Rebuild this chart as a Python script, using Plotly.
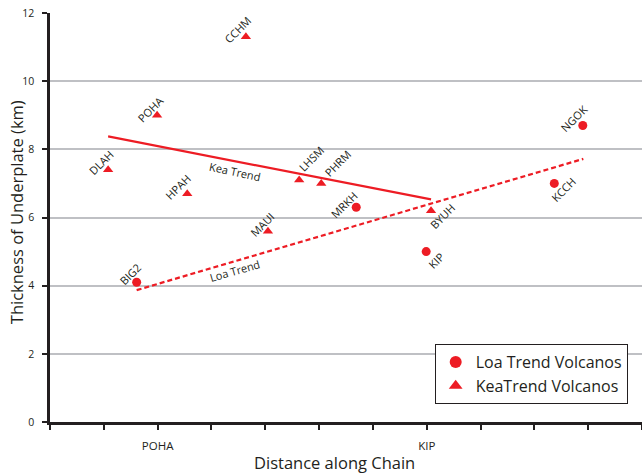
import plotly.graph_objects as go

# Volcano positions along the chain (x) and underplate thickness in km (y)
loa_names = ["BIG2", "MRKH", "KIP", "KCCH", "NGOK"]
loa_x = [1.61, 5.69, 6.99, 9.37, 9.90]
loa_y = [4.1, 6.3, 5.0, 7.0, 8.7]

kea_names = ["DLAH", "POHA", "HPAH", "CCHM", "MAUI", "LHSM", "PHRM", "BYUH"]
kea_x = [1.08, 1.99, 2.55, 3.64, 4.05, 4.63, 5.04, 7.08]
kea_y = [7.4, 9.0, 6.7, 11.3, 5.6, 7.1, 7.0, 6.2]

# Trend line end points
kea_trend_x = [1.08, 7.08]
kea_trend_y = [8.38, 6.53]
loa_trend_x = [1.61, 9.91]
loa_trend_y = [3.87, 7.72]

# Axis ticks
x_tickvals = list(range(0, 12))
x_ticktext = ["", "", "POHA", "", "", "", "", "KIP", "", "", "", ""]
y_tickvals = [0, 2, 4, 6, 8, 10, 12]

RED = "#ED1C24"
INK = "#231F20"
GRID = "#BFC0C4"
FONT = "Open Sans"

# Label offsets (pixels, right / up) relative to each marker
label_shift = {
    "BIG2": (-7, 8), "MRKH": (-12, 3), "KIP": (10, -9), "KCCH": (9, -6),
    "NGOK": (-9, 7), "DLAH": (-7, 7), "POHA": (-7, 6), "HPAH": (-9, 7),
    "CCHM": (-8, 7), "MAUI": (-6, 7), "LHSM": (12, 22), "PHRM": (16, 20),
    "BYUH": (11, -6),
}

fig = go.Figure()

fig.add_trace(go.Scatter(
    x=kea_trend_x, y=kea_trend_y, mode="lines",
    line=dict(color=RED, width=2.2), showlegend=False, hoverinfo="skip"))
fig.add_trace(go.Scatter(
    x=loa_trend_x, y=loa_trend_y, mode="lines",
    line=dict(color=RED, width=2.2, dash="5px,3px"), showlegend=False,
    hoverinfo="skip"))

fig.add_trace(go.Scatter(
    x=loa_x, y=loa_y, mode="markers", name="Loa Trend Volcanos",
    text=loa_names, marker=dict(symbol="circle", size=9, color=RED)))
fig.add_trace(go.Scatter(
    x=kea_x, y=kea_y, mode="markers", name="KeaTrend Volcanos",
    text=kea_names, marker=dict(symbol="triangle-up", size=9, color=RED)))

annotations = []
for names, xs, ys in ((loa_names, loa_x, loa_y), (kea_names, kea_x, kea_y)):
    for n, x, y in zip(names, xs, ys):
        dx, dy = label_shift[n]
        annotations.append(dict(
            x=x, y=y, xref="x", yref="y", text=n, showarrow=False,
            textangle=-45, xshift=dx, yshift=dy,
            font=dict(family=FONT, size=11, color=INK)))

# Trend line captions
annotations.append(dict(x=3.44, y=7.36, xref="x", yref="y", text="Kea Trend",
                        showarrow=False, textangle=12,
                        font=dict(family=FONT, size=11, color=INK)))
annotations.append(dict(x=3.44, y=4.45, xref="x", yref="y", text="Loa Trend",
                        showarrow=False, textangle=-16,
                        font=dict(family=FONT, size=11, color=INK)))

# Axis titles
annotations.append(dict(x=-0.0574, y=0.513, xref="paper", yref="paper",
                        text="Thickness of Underplate (km)", showarrow=False,
                        textangle=-90, xanchor="center", yanchor="middle",
                        font=dict(family=FONT, size=16.5, color=INK)))
annotations.append(dict(x=0.4814, y=-0.0978, xref="paper", yref="paper",
                        text="Distance along Chain", showarrow=False,
                        xanchor="center", yanchor="middle",
                        font=dict(family=FONT, size=16.5, color=INK)))

fig.update_layout(
    width=642, height=476,
    margin=dict(l=50, r=0, t=13, b=54, pad=0),
    paper_bgcolor="white", plot_bgcolor="white",
    font=dict(family=FONT, color=INK),
    annotations=annotations,
    legend=dict(
        x=0.9758, y=0.1907, xanchor="right", yanchor="top",
        bgcolor="white", bordercolor=INK, borderwidth=1,
        font=dict(family=FONT, size=16, color=INK),
        itemsizing="constant",
    ),
    xaxis=dict(
        range=[0, 11], tickvals=x_tickvals, ticktext=x_ticktext,
        showgrid=False, zeroline=False,
        showline=True, linecolor=INK, linewidth=2.5,
        ticks="outside", ticklen=5, tickwidth=1.5, tickcolor=INK,
        ticklabelstandoff=6,
        tickfont=dict(family=FONT, size=11.5, color=INK),
    ),
    yaxis=dict(
        range=[0, 12], tickvals=y_tickvals,
        showgrid=True, gridcolor=GRID, gridwidth=2, zeroline=False,
        showline=True, linecolor=INK, linewidth=2.5,
        ticks="outside", ticklen=5, tickwidth=1.5, tickcolor=INK,
        ticklabelstandoff=6,
        tickfont=dict(family=FONT, size=10.5, color=INK),
    ),
)

fig.write_html("out.html")
